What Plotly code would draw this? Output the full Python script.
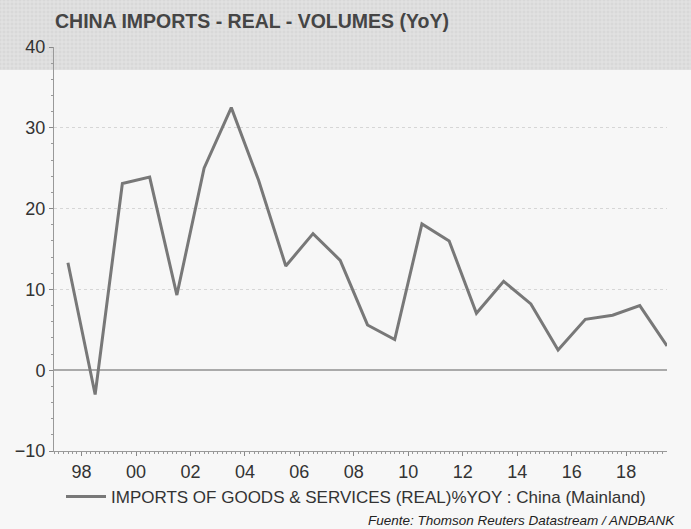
import plotly.graph_objects as go

# ---- data -------------------------------------------------------------
years = list(range(1997, 2020))
values = [13.3, -3.0, 23.1, 23.9, 9.3, 25.0, 32.5, 23.5, 12.9, 16.9, 13.6,
          5.6, 3.8, 18.1, 16.0, 7.05, 11.0, 8.2, 2.5, 6.3, 6.8, 8.0, 3.0]
series_name = "IMPORTS OF GOODS & SERVICES (REAL)%YOY : China (Mainland)"
tick_years = list(range(1998, 2019, 2))
tick_labels = [f"{y % 100:02d}" for y in tick_years]
y_ticks = [-10, 0, 10, 20, 30, 40]
title_text = "CHINA IMPORTS - REAL - VOLUMES (YoY)"
source_text = "Fuente: Thomson Reuters Datastream / ANDBANK"

# annual values are plotted at year end
dates = [f"{y}-12-31" for y in years]
tick_dates = [f"{y}-07-01" for y in tick_years]

W, H = 691, 529
FONT = "Liberation Sans, Arial, sans-serif"

fig = go.Figure()

# hatched header band (decorative background)
fig.add_trace(go.Bar(
    x=[0.5], y=[1], width=[1], xaxis="x", yaxis="y",
    marker=dict(color="#dcdcdc", line_width=0,
                pattern=dict(shape="+", fgcolor="#f0f0f0", bgcolor="#d8d8d8",
                             size=4, solidity=0.45)),
    hoverinfo="skip", showlegend=False))

fig.add_trace(go.Scatter(
    x=dates, y=values, xaxis="x2", yaxis="y2", mode="lines",
    name=series_name, line=dict(color="#787878", width=3)))

fig.update_layout(
    width=W, height=H,
    margin=dict(l=0, r=0, t=0, b=0, autoexpand=False),
    paper_bgcolor="#f7f7f7",
    plot_bgcolor="rgba(0,0,0,0)",
    font=dict(family=FONT, color="#333333", size=17),
    title=dict(text=f"<b>{title_text}</b>", x=55 / W, xanchor="left",
               y=1 - 21 / H, yanchor="middle", xref="paper", yref="container",
               font=dict(family=FONT, size=19.5, color="#454545")),
    xaxis=dict(domain=[0, 1], range=[0, 1], visible=False, fixedrange=True),
    yaxis=dict(domain=[1 - 70 / H, 1], range=[0, 1], visible=False, fixedrange=True),
    xaxis2=dict(domain=[54 / W, 667 / W], anchor="y2", type="date",
                range=["1997-06-27", "2019-12-31"],
                tickmode="array", tickvals=tick_dates, ticktext=tick_labels,
                ticks="outside", ticklen=4, tickcolor="#888888", tickwidth=1,
                showline=True, linecolor="#999999", linewidth=1,
                showgrid=False, zeroline=False,
                tickfont=dict(size=18, color="#333333"),
                minor=dict(ticks="outside", ticklen=2, tickcolor="#999999",
                           dtick="M2", tick0="1998-01-01", showgrid=False)),
    yaxis2=dict(domain=[1 - 451 / H, 1 - 47 / H], anchor="x2",
                range=[-10, 40], tickmode="array", tickvals=y_ticks,
                ticks="outside", ticklen=4, tickcolor="#888888",
                showline=True, linecolor="#999999", linewidth=1,
                showgrid=True, gridcolor="#d6d6d6", griddash="dot", gridwidth=1,
                zeroline=True, zerolinecolor="#aaaaaa", zerolinewidth=1.5,
                tickfont=dict(size=18, color="#333333"),
                minor=dict(ticks="outside", ticklen=2, tickcolor="#999999",
                           dtick=2, showgrid=False)),
    showlegend=True,
    legend=dict(orientation="h", x=61 / W, xanchor="left",
                y=1 - 497 / H, yanchor="middle",
                bgcolor="rgba(0,0,0,0)", font=dict(size=17, color="#333333"),
                itemwidth=40),
    annotations=[dict(text=f"<i>{source_text}</i>", x=677 / W, xanchor="right",
                      y=1 - 520 / H, yanchor="middle", xref="paper", yref="paper",
                      showarrow=False, font=dict(size=13.5, color="#222222"))],
)

fig.write_html("out.html",
               config={"displayModeBar": False},
               post_script="document.body.style.margin='0';"
                           "document.body.style.overflow='hidden';")
